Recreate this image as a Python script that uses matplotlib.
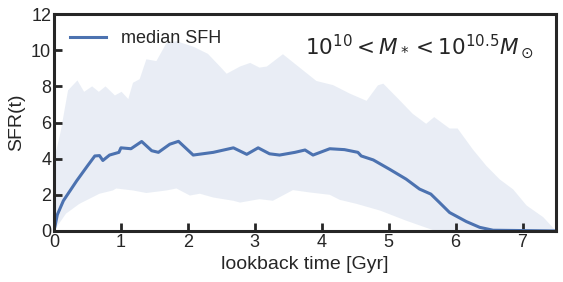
import matplotlib
matplotlib.use("Agg")
import matplotlib.pyplot as plt
import numpy as np

# median star formation history
median_t = [0, 0.05, 0.14, 0.34, 0.5, 0.61, 0.68, 0.73, 0.83, 0.97, 1.0, 1.15,
            1.31, 1.46, 1.56, 1.73, 1.86, 2.08, 2.38, 2.68, 2.88, 3.05, 3.22,
            3.37, 3.6, 3.75, 3.87, 4.12, 4.34, 4.54, 4.59, 4.77, 5.02, 5.26,
            5.46, 5.63, 5.76, 5.91, 6.16, 6.36, 6.56, 7.5]
median_sfr = [0, 0.9, 1.67, 2.78, 3.6, 4.15, 4.17, 3.9, 4.2, 4.35, 4.6, 4.55,
              4.95, 4.44, 4.35, 4.8, 4.96, 4.2, 4.35, 4.6, 4.24, 4.6, 4.27,
              4.2, 4.35, 4.48, 4.2, 4.55, 4.5, 4.35, 4.15, 3.93, 3.4, 2.87,
              2.32, 2.04, 1.57, 1.02, 0.52, 0.2, 0.04, 0.0]

# upper edge of the spread
upper_t = [0, 0.1, 0.21, 0.35, 0.45, 0.57, 0.67, 0.77, 0.91, 1.01, 1.11, 1.18,
           1.28, 1.38, 1.53, 1.68, 1.83, 2.08, 2.3, 2.48, 2.58, 2.78, 2.93,
           3.07, 3.18, 3.42, 3.67, 3.92, 4.17, 4.42, 4.67, 4.84, 4.92, 5.12,
           5.36, 5.56, 5.68, 5.91, 6.03, 6.26, 6.46, 6.66, 6.86, 7.06, 7.31, 7.5]
upper_sfr = [3.9, 5.5, 7.78, 8.33, 7.7, 8.0, 7.7, 8.0, 7.5, 7.7, 7.3, 8.2,
             8.4, 9.5, 9.4, 10.4, 10.5, 10.2, 9.8, 9.1, 8.7, 9.1, 9.3,
             9.04, 9.1, 9.78, 9.04, 8.3, 8.07, 7.6, 7.2, 8.06, 8.15, 7.4,
             6.48, 5.93, 6.3, 5.67, 5.67, 4.5, 3.6, 2.85, 2.3, 1.41, 0.76, 0.0]

# lower edge of the spread
lower_t = [0, 0.18, 0.38, 0.68, 0.88, 0.93, 1.18, 1.38, 1.68, 1.83, 2.03, 2.18,
           2.38, 2.68, 2.78, 3.07, 3.27, 3.57, 3.82, 4.12, 4.27, 4.52, 4.87,
           5.26, 5.66, 7.5]
lower_sfr = [0, 0.96, 1.5, 2.06, 2.24, 2.35, 2.24, 2.1, 2.24, 2.35, 1.96, 2.06,
             1.85, 1.67, 1.57, 1.76, 1.67, 2.26, 2.13, 2.0, 1.72, 1.5, 1.13,
             0.57, 0.05, 0.0]

xticks = [0, 1, 2, 3, 4, 5, 6, 7]
yticks = [0, 2, 4, 6, 8, 10, 12]

plt.rcParams["font.family"] = ["Liberation Sans", "DejaVu Sans"]
plt.rcParams["mathtext.fontset"] = "dejavusans"
text_col = "#262626"
blue = "#4c72b0"

fig = plt.figure(figsize=(5.63, 2.82), dpi=100)
ax = fig.add_axes([0.0959, 0.181, 0.8917, 0.769])

band_x = np.concatenate([upper_t, lower_t[::-1]])
band_y = np.concatenate([upper_sfr, lower_sfr[::-1]])
ax.fill(band_x, band_y, color=blue, alpha=0.12, lw=0)
ax.plot(median_t, median_sfr, color=blue, lw=2.2, label="median SFH")

ax.set_xlim(0, 7.5)
ax.set_ylim(0, 12)
ax.set_xticks(xticks)
ax.set_yticks(yticks)
ax.tick_params(direction="in", length=6, width=2, colors=text_col,
               labelsize=13, pad=2)
for s in ax.spines.values():
    s.set_linewidth(2.2)
    s.set_color(text_col)

ax.set_xlabel("lookback time [Gyr]", fontsize=14, color=text_col, labelpad=4)
ax.set_ylabel("SFR(t)", fontsize=14, color=text_col, labelpad=4)

ax.legend(loc="upper left", frameon=False, fontsize=13, handlelength=2.0,
          labelcolor=text_col)
ax.text(0.729, 0.848, r"$10^{10} < M_* < 10^{10.5} M_\odot$", transform=ax.transAxes,
        ha="center", va="center", fontsize=15.5, color=text_col)

fig.savefig("out.png", dpi=100)
